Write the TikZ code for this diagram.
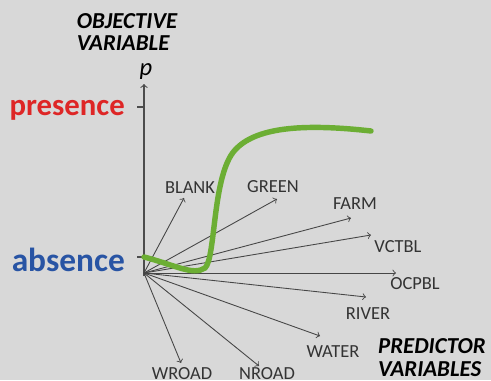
\documentclass[tikz,border=0pt]{standalone}
\usepackage{fontspec}
\setmainfont{Carlito}
\definecolor{bggray}{RGB}{216,216,216}
\definecolor{presred}{RGB}{222,38,38}
\definecolor{absblue}{RGB}{40,84,164}
\definecolor{curvegreen}{RGB}{108,174,52}
\definecolor{vecgray}{RGB}{70,70,70}

\begin{document}
\begin{tikzpicture}[x=0.02cm,y=0.02cm]
  \fill[bggray] (0,0) rectangle (491,380);
  \useasboundingbox (0,0) rectangle (491,380);

  % axis
  \coordinate (o) at (144,107);
  \coordinate (top) at (144,296);
  \draw[gray!60!black,line width=0.6pt,->] (144,104) -- (top);
  \node (p) at (146,308) {\fontsize{14}{14}\selectfont\itshape p};
  \draw[gray!60!black,line width=0.6pt] (137,273) -- (144,273);
  \draw[gray!60!black,line width=0.6pt] (137,123) -- (144,123);

  \node[anchor=east,text=presred,font=\fontsize{17.5}{17.5}\selectfont\bfseries] (pres) at (131,270) {presence};
  \node[anchor=east,text=absblue,font=\fontsize{19}{19}\selectfont\bfseries] (abs) at (131,120) {absence};

  \node[align=left,font=\fontsize{13}{12.5}\selectfont\bfseries\itshape] (obj) at (127,348) {OBJECTIVE\\VARIABLE};
  \node[align=left,font=\fontsize{13}{13}\selectfont\bfseries\itshape] (pred) at (432,22) {PREDICTOR\\VARIABLES};

  % predictor vectors
  \foreach \n/\tx/\ty/\lx/\ly in {BLANK/184/182/190/192, GREEN/277/181/273/193,
      FARM/351/162/355/176, VCTBL/371/145/398/133, OCPBL/396/107/415/96,
      RIVER/366/83/368/66, WATER/320/44/333/28, NROAD/259/14/267/6,
      WROAD/181/17/182/6} {
    \coordinate (\n) at (\tx,\ty);
    \node[text=black!80,font=\fontsize{10.5}{10.5}\selectfont] (\n-lbl) at (\lx,\ly) {\n};
    \draw[vecgray,line width=0.5pt,->] (o) -- (\n);
  }

  % response curve
  \draw[curvegreen,line width=3.1pt,line cap=round]
    (144,123) .. controls (175,115) and (193,104) .. (205,112)
    .. controls (216,122) and (212,205) .. (235,230)
    .. controls (255,252) and (300,257) .. (371,249);
\end{tikzpicture}
\end{document}
